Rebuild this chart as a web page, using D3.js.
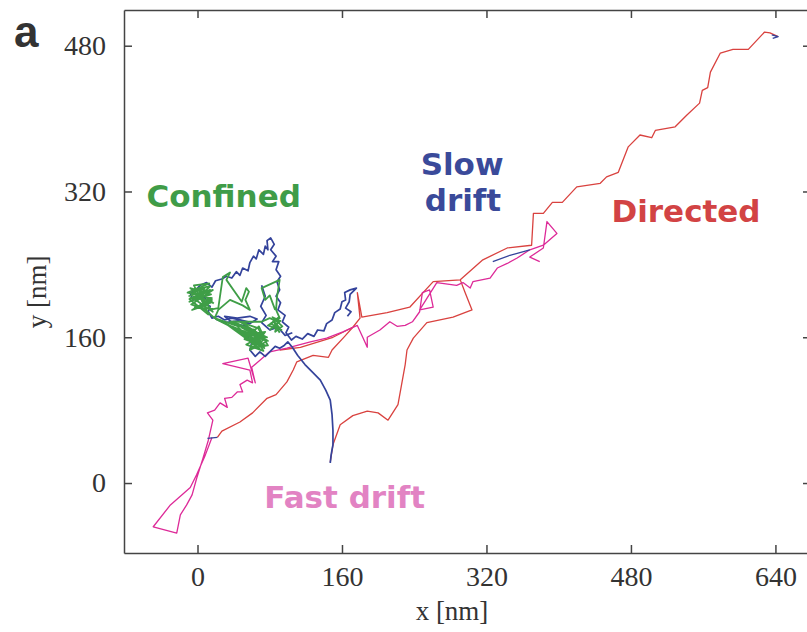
<!DOCTYPE html>
<html>
<head>
<meta charset="utf-8">
<script src="https://cdn.jsdelivr.net/npm/d3@7"></script>
<style>
  body { margin: 0; background: #fff; }
  .axis path, .axis line { stroke: #444; stroke-width: 1.5; }
  .axis text { font-family: "Liberation Serif", serif; font-size: 28px; fill: #333; }
  .track { fill: none; stroke-width: 1.3; stroke-linejoin: round; }
  .note { font-family: "DejaVu Sans", sans-serif; font-weight: bold; font-size: 31px; }
</style>
</head>
<body>
<div id="chart"></div>
<script>
// trajectory pieces in nm, one array per colour piece
var xTicks = [0, 160, 320, 480, 640];
var yTicks = [0, 160, 320, 480];

// Directed (red)
var redMain = [[22,50],[27,57],[47,67],[61,77],[77,93],[87,97],[99,111],[106,124],[110,133],[128,140],[145,138],[149,146],
  [163,161],[172,171],[180,181],[177,209],[182,182],[210,187],[235,193],[261,221],[291,223],[316,245],[343,258],[370,261],
  [372,296],[383,296],[393,308],[404,308],[420,325],[446,329],[453,336],[466,341],[477,369],[490,382],[503,379],[507,387],
  [529,391],[542,404],[556,417],[559,431],[565,434],[568,451],[579,472],[593,476],[610,476],[628,495],[634,494],[643,490]];
var redUpper = [[91,146],[114,149],[150,160],[172,171]];
var redLoop = [[147,23],[150,42],[158,64],[172,74],[188,79],[200,77],[211,69],[222,86],[226,108],[230,130],[232,146],
  [239,159],[254,176],[283,182],[304,190],[296,210],[291,223]];

// Fast drift (pink)
var pinkTrack = [[16,50],[8,29],[-1,9],[-8,-5],[-30,-24],[-49,-48],[-23,-55],[-19,-35],[-12,-24],[-6,-13],[-1,5],[6,27],
  [12,47],[17,69],[11,77],[19,80],[25,88],[33,83],[30,93],[38,94],[44,100],[50,100],[47,108],[55,113],[61,110],[58,124],
  [28,131],[56,137],[64,110],[60,127],[80,144],[99,148],[125,155],[143,159],[161,166],[177,173],[183,160],[188,149],
  [188,160],[202,168],[213,177],[221,172],[230,173],[238,177],[246,188],[249,209],[257,212],[261,193],[246,190],[265,220],
  [287,217],[294,220],[302,214],[305,221],[324,225],[332,236],[343,241],[354,247],[368,256],[383,261],[398,274],[387,287],
  [383,258],[368,248],[379,243]];

// Slow drift (blue)
var blueTrack = [[147,22],[148,31],[150,42],[150,58],[149,75],[147,91],[142,102],[136,113],[127,122],[119,130],[111,140],
  [105,149],[100,155],[96,151],[91,148],[86,150],[80,144],[75,139],[69,144],[64,139],[58,146],[60,154],[56,159],[60,166],
  [53,171],[56,177],[47,179],[38,181],[30,179],[23,183],[16,181],[12,188],[14,194],[6,197],[9,203],[1,205],[-5,201],
  [-8,208],[-2,212],[3,217],[10,220],[16,215],[20,222],[27,224],[32,227],[38,225],[43,232],[47,228],[50,236],[56,233],
  [58,242],[62,249],[65,246],[68,256],[73,251],[75,260],[78,256],[77,266],[81,269],[85,262],[81,256],[87,249],[83,243],
  [90,243],[87,234],[92,227],[88,221],[91,212],[87,205],[92,198],[89,190],[97,184],[94,177],[101,171],[98,165],[104,157],
  [109,161],[116,158],[122,164],[129,161],[133,168],[140,167],[143,175],[149,179],[152,187],[158,191],[160,199],[164,201],
  [163,209],[169,212],[176,214],[169,207],[168,199],[164,192],[170,188],[166,183]];
var blueInner = [[71,217],[75,205],[70,194],[76,184],[71,176],[80,168],[89,171],[97,162],[105,165]];
var blueLower = [[20,180],[30,176],[45,178],[58,175],[66,180],[58,183],[44,181],[30,183],[40,175],[55,172]];
var blueStart = [[11,49],[22,50]];
var blueMid = [[327,243],[346,250],[368,256]];
var blueEnd = [[636,492],[643,490],[637,488]];

// Confined (green)
var greenTrack = [[19,181],[3,195],[16,201],[-8,203],[12,210],[-5,212],[14,216],[-2,201],[17,188],[3,205],[8,214],[-6,209],
  [15,198],[-3,193],[17,191],[23,192],[28,226],[36,231],[32,223],[49,199],[54,214],[57,210],[53,201],[58,190],[50,195],
  [36,201],[23,190],[19,181],[42,173],[64,168],[45,166],[69,155],[53,159],[75,151],[58,155],[71,162],[47,177],[67,170],
  [78,151],[60,148],[73,157],[56,168],[36,177],[71,177],[80,181],[89,177],[86,170],[78,173],[91,181],[87,190],[88,204],
  [91,223],[71,214],[75,201],[80,206],[86,190]];
var greenLeft = [[-10,205],[14,212],[-9,199],[15,207],[-8,214],[12,196],[-6,190],[16,203],[-11,209],[13,219],[-4,217],
  [10,190],[-7,196],[17,212],[-9,202],[12,185],[2,210],[18,197]];
var greenBottom = [[20,180],[60,160],[30,176],[66,150],[38,172],[72,158],[44,169],[70,146],[50,165],[77,160],[40,177],
  [62,152],[55,170],[74,148],[65,165],[58,146],[76,155],[68,172],[52,158],[71,151],[57,163],[75,166],[62,148],[69,160],
  [54,152],[73,145],[60,168],[78,156],[48,171]];
var greenRight = [[80,168],[92,178],[83,182],[94,172],[86,166],[90,182],[81,175],[93,168],[84,178],[91,165]];

var red = "#d9423f", pink = "#dd2a98", blue = "#34439b", green = "#3f9e47";
var tracks = [
  {pts: redMain, color: red, w: 1.3},
  {pts: redUpper, color: red, w: 1.3},
  {pts: redLoop, color: red, w: 1.3},
  {pts: pinkTrack, color: pink, w: 1.3},
  {pts: blueTrack, color: blue, w: 1.7},
  {pts: blueInner, color: blue, w: 1.7},
  {pts: blueLower, color: blue, w: 1.7},
  {pts: blueStart, color: blue, w: 1.3},
  {pts: blueMid, color: blue, w: 1.3},
  {pts: blueEnd, color: blue, w: 1.3},
  {pts: greenTrack, color: green, w: 1.8},
  {pts: greenLeft, color: green, w: 1.8},
  {pts: greenBottom, color: green, w: 1.8},
  {pts: greenRight, color: green, w: 1.8}
];

var notes = [
  {text: "Confined", x: 29, y: 303, color: "#3f9c48"},
  {text: "Slow", x: 293, y: 338, color: "#3a4a9a"},
  {text: "drift", x: 294, y: 299, color: "#3a4a9a"},
  {text: "Directed", x: 541, y: 287, color: "#d24344"},
  {text: "Fast drift", x: 163, y: -27, color: "#e283c3"}
];

var width = 807;
var height = 632;
var mLeft = 124, mRight = 811, mTop = 10, mBottom = 553;

var svg = d3.select("#chart").append("svg")
  .attr("width", width)
  .attr("height", height);

var xScale = d3.scaleLinear().domain([-81.4, 679.4]).range([mLeft, mRight]);
var yScale = d3.scaleLinear().domain([-76.8, 519.2]).range([mBottom, mTop]);

// frame with inward ticks on all four sides
svg.append("g").attr("class", "axis")
  .attr("transform", `translate(0, ${mBottom})`)
  .call(d3.axisBottom(xScale).tickValues(xTicks).tickSizeInner(-8).tickSizeOuter(0).tickPadding(13));
svg.append("g").attr("class", "axis")
  .attr("transform", `translate(0, ${mTop})`)
  .call(d3.axisTop(xScale).tickValues(xTicks).tickSizeInner(-8).tickSizeOuter(0).tickFormat(""));
svg.append("g").attr("class", "axis")
  .attr("transform", `translate(${mLeft}, 0)`)
  .call(d3.axisLeft(yScale).tickValues(yTicks).tickSizeInner(-8).tickSizeOuter(0).tickPadding(18));
svg.append("g").attr("class", "axis")
  .attr("transform", `translate(${mRight}, 0)`)
  .call(d3.axisRight(yScale).tickValues(yTicks).tickSizeInner(-8).tickSizeOuter(0).tickFormat(""));

svg.append("text")
  .attr("x", 452)
  .attr("y", 620)
  .attr("text-anchor", "middle")
  .style("font-family", "Liberation Serif, serif")
  .style("font-size", "27px")
  .style("fill", "#333")
  .text("x [nm]");

svg.append("text")
  .attr("transform", "translate(46, 292) rotate(-90)")
  .attr("text-anchor", "middle")
  .style("font-family", "Liberation Serif, serif")
  .style("font-size", "27px")
  .style("fill", "#333")
  .text("y [nm]");

svg.append("text")
  .attr("x", 14)
  .attr("y", 47)
  .style("font-family", "Liberation Sans, sans-serif")
  .style("font-weight", "bold")
  .style("font-size", "44px")
  .style("fill", "#333")
  .text("a");

/* trajectories */
var line = d3.line()
  .x(d => xScale(d[0]))
  .y(d => yScale(d[1]));

svg.append("g").selectAll("path")
  .data(tracks).enter()
  .append("path")
  .attr("class", "track")
  .attr("d", d => line(d.pts))
  .style("stroke", d => d.color)
  .style("stroke-width", d => d.w);

// labels, placed in data units
svg.append("g").selectAll("text")
  .data(notes).enter()
  .append("text")
  .attr("class", "note")
  .attr("x", d => xScale(d.x))
  .attr("y", d => yScale(d.y))
  .attr("text-anchor", "middle")
  .style("fill", d => d.color)
  .text(d => d.text);
</script>
</body>
</html>
